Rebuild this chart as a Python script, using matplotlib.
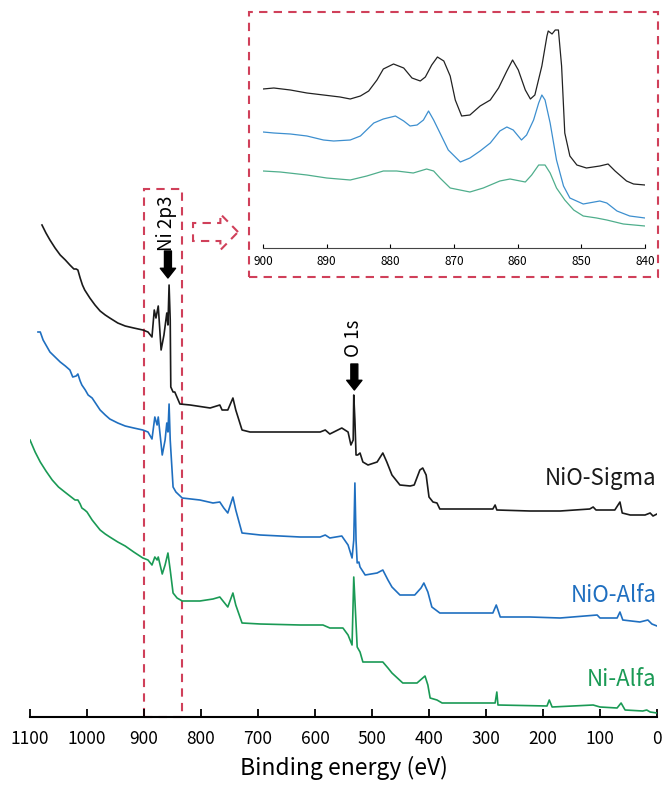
import matplotlib
matplotlib.use('Agg')
import matplotlib.pyplot as plt
from matplotlib.patches import Rectangle, FancyArrow

plt.rcParams['font.family'] = ['Noto Sans CJK JP', 'DejaVu Sans']

# survey spectra (binding energy, intensity with offset)
sigma_e = [1079, 1072, 1065, 1056, 1047, 1038, 1030, 1023, 1019, 1016, 1012, 1008, 1004, 995,
           986, 977, 968, 960, 946, 933, 918, 902,
           893, 886, 882, 879, 875, 870, 865, 860, 858, 856, 854, 853, 849, 846, 837,
           819, 784, 767, 763, 753, 744, 739, 728, 714, 626, 591, 582, 574, 553, 542,
           537, 533, 532, 530, 528, 525, 521, 516, 507, 491, 481, 474, 465, 451, 433,
           426, 416, 411, 405, 400, 393, 386, 381, 346, 288, 284, 281, 223, 170, 118,
           112, 107, 74, 65, 61, 47, 21, 12, 7, 0]
sigma_i = [492, 484, 477, 469, 462, 457, 452, 448, 448, 447, 439, 432, 427, 419,
           412, 406, 402, 399, 394, 391, 389, 387,
           385, 380, 407, 399, 411, 367, 382, 404, 392, 432, 397, 330, 325, 325, 313,
           312, 309, 312, 307, 307, 319, 307, 287, 285, 285, 285, 287, 283, 289, 285,
           272, 277, 322, 297, 262, 262, 264, 255, 252, 255, 264, 255, 242, 232, 231,
           232, 247, 249, 242, 220, 215, 214, 208, 208, 208, 212, 207, 206, 206, 208,
           210, 207, 207, 215, 204, 202, 202, 204, 201, 203]

alfa_e = [1086, 1082, 1077, 1071, 1065, 1056, 1047, 1038, 1030, 1025, 1019, 1016, 1012, 1009,
          1003, 998, 991, 984, 977, 968, 960, 946, 933, 918, 902,
          893, 886, 881, 877, 875, 868, 863, 860, 858, 856, 854, 849, 844, 833,
          802, 779, 767, 760, 753, 744, 739, 728, 696, 626, 591, 582, 574, 553, 542,
          535, 532, 530, 528, 526, 523, 521, 512, 491, 481, 472, 465, 451, 425, 414,
          409, 402, 395, 388, 381, 288, 282, 279, 275, 223, 170, 105, 100, 70, 65,
          60, 30, 16, 9, 0]
alfa_i = [385, 385, 377, 371, 365, 360, 355, 351, 347, 340, 341, 343, 336, 332,
          327, 322, 319, 313, 307, 302, 298, 294, 291, 289, 287,
          285, 278, 300, 292, 300, 262, 277, 294, 285, 313, 277, 230, 225, 219,
          217, 214, 215, 209, 204, 220, 207, 184, 182, 180, 180, 182, 179, 181, 172,
          159, 177, 234, 177, 154, 155, 150, 142, 144, 147, 137, 130, 122, 122, 129,
          134, 125, 110, 107, 104, 104, 112, 107, 100, 100, 99, 102, 99, 99, 105,
          97, 95, 97, 93, 91]

ni_e = [1100, 1091, 1082, 1072, 1061, 1050, 1039, 1030, 1021, 1016, 1012, 1009, 1004, 1000,
        991, 984, 977, 968, 960, 946, 933, 918, 902,
        893, 886, 881, 877, 875, 868, 863, 858, 854, 849, 842, 833,
        802, 779, 767, 760, 753, 744, 739, 728, 696, 626, 586, 574, 551, 542,
        535, 532, 530, 526, 521, 516, 481, 472, 465, 446, 421, 407, 402, 398,
        386, 377, 284, 281, 279, 193, 189, 184, 112, 100, 70, 63, 56, 25, 18, 12, 0]
ni_i = [277, 265, 255, 246, 237, 230, 225, 221, 217, 217, 213, 209, 207, 205,
        197, 192, 187, 183, 180, 175, 171, 165, 159,
        157, 152, 160, 157, 160, 143, 152, 164, 147, 124, 119, 116,
        116, 118, 120, 115, 110, 124, 112, 94, 93, 92, 92, 89, 89, 82,
        72, 140, 117, 70, 65, 55, 55, 49, 44, 34, 34, 41, 32, 19,
        17, 14, 14, 25, 12, 11, 17, 10, 12, 10, 9, 14, 7, 6, 7, 5, 4]

# Ni 2p detail (inset)
in_sigma_e = [900, 898.3, 895.7, 893.1, 890.5, 887.9, 886.3, 884.7, 883.4, 882.1, 881.1,
              879.5, 877.9, 876.6, 875.3, 874.5, 873.5, 872.6, 871.6, 870.6, 869.8,
              868.8, 867.5, 865.9, 864.3, 863.0, 861.7, 860.8, 859.9, 858.8, 858.0,
              857.3, 856.2, 855.4, 855.2, 854.6, 854.1, 853.6, 853.1, 852.6, 851.8,
              850.7, 849.2, 847.1, 845.8, 844.7, 842.9, 841.8, 840]
in_sigma_i = [159, 160, 158, 155, 153, 151, 149, 152, 157, 168, 179,
              184, 180, 170, 167, 171, 183, 191, 187, 172, 148,
              132, 133, 142, 148, 160, 177, 188, 178, 158, 149,
              153, 182, 212, 217, 214, 218, 218, 182, 115, 92,
              83, 80, 82, 84, 77, 67, 64, 63]

in_alfa_e = [900, 898.3, 895.7, 893.1, 890.5, 888.9, 886.3, 884.7, 882.6, 881.1, 879.2,
             877.9, 876.9, 875.8, 874.8, 874.0, 873.2, 872.2, 870.9, 869.0, 867.5,
             865.9, 864.3, 862.8, 861.7, 860.7, 859.4, 858.6, 857.5, 856.7, 856.2,
             855.7, 854.9, 853.9, 852.8, 851.8, 849.7, 847.1, 846.0, 844.4, 842.4, 840]
in_alfa_i = [116, 115, 114, 112, 108, 107, 108, 112, 125, 129, 132,
             127, 122, 123, 128, 137, 128, 115, 98, 86, 90,
             97, 105, 117, 121, 118, 108, 113, 128, 145, 153,
             148, 125, 88, 62, 50, 44, 47, 45, 37, 32, 30]

in_ni_e = [900, 897.3, 893.1, 890.0, 886.3, 883.7, 881.1, 879.0, 876.4, 874.3, 873.2,
           872.2, 870.6, 867.5, 865.4, 862.8, 861.2, 859.6, 858.8, 857.8, 856.7,
           855.7, 854.9, 853.9, 852.6, 851.2, 849.7, 847.6, 846.0, 843.4, 840]
in_ni_i = [77, 76, 73, 70, 68, 72, 77, 77, 75, 79, 77,
           70, 60, 56, 60, 67, 69, 67, 66, 73, 83,
           83, 75, 60, 48, 38, 32, 30, 28, 24, 22]

labels = ['NiO-Sigma', 'NiO-Alfa', 'Ni-Alfa']
label_y = [239, 121, 37]
main_colors = ['#1a1a1a', '#1f6fc0', '#1a9a55']
inset_colors = ['#222222', '#3d8fcf', '#4fae8c']
red = '#d0405a'

fig = plt.figure(figsize=(6.67, 7.94), dpi=100)
ax = fig.add_axes([30 / 667, 1 - 717 / 794, 627 / 667, 717 / 794])

for e, i, c in zip([sigma_e, alfa_e, ni_e], [sigma_i, alfa_i, ni_i], main_colors):
    ax.plot(e, i, color=c, lw=1.2)

for lab, y, c in zip(labels, label_y, main_colors):
    ax.text(1, y, lab, color=c, fontsize=16, ha='right', va='center')

ax.set_xlim(1100, 0)
ax.set_ylim(0, 717)
ax.set_xticks(range(0, 1101, 100))
for s in ['left', 'top', 'right']:
    ax.spines[s].set_visible(False)
ax.spines['bottom'].set_linewidth(1.5)
ax.set_yticks([])
ax.tick_params(axis='x', direction='in', length=6, width=1.3, labelsize=12.5, pad=9)
ax.set_xlabel('Binding energy (eV)', fontsize=16.5, labelpad=6)

# Ni 2p region box and arrow to inset
ax.add_patch(Rectangle((900, 0), -66, 528, fill=False, ec=red, lw=1.5, ls=(0, (4, 3)),
                       clip_on=False))
ax.add_patch(FancyArrow(814, 485, -79, 0, width=18, head_width=36, head_length=31,
                        length_includes_head=True, fill=False, ec=red, lw=1.5,
                        ls=(0, (4, 3)), clip_on=False))

# peak markers
arrow = dict(facecolor='black', edgecolor='black', width=5, headwidth=11, headlength=7, shrink=0)
ax.annotate('', xy=(858, 439), xytext=(858, 466), arrowprops=arrow)
ax.text(860, 466, 'Ni 2p3', rotation=90, ha='center', va='bottom', fontsize=13.5)
ax.annotate('', xy=(531, 327), xytext=(531, 353), arrowprops=arrow)
ax.text(532, 360, 'O 1s', rotation=90, ha='center', va='bottom', fontsize=13.5)

# inset
ins = fig.add_axes([263 / 667, 1 - 248 / 794, 382 / 667, 228 / 794])
for e, i, c in zip([in_sigma_e, in_alfa_e, in_ni_e], [in_sigma_i, in_alfa_i, in_ni_i], inset_colors):
    ins.plot(e, i, color=c, lw=0.9)
ins.set_xlim(900, 840)
ins.set_ylim(0, 228)
ins.set_xticks(range(840, 901, 10))
ins.set_yticks([])
for s in ['left', 'top', 'right']:
    ins.spines[s].set_visible(False)
ins.spines['bottom'].set_color('#444444')
ins.spines['bottom'].set_linewidth(0.8)
ins.tick_params(axis='x', direction='in', length=3, width=0.8, labelsize=8.5, pad=5)
ins.patch.set_alpha(0)

fig.patches.append(Rectangle((249 / 667, 1 - 277 / 794), 409 / 667, 265 / 794,
                             transform=fig.transFigure, fill=False, ec=red, lw=1.5,
                             ls=(0, (4, 3))))

fig.savefig('out.png', dpi=100)
